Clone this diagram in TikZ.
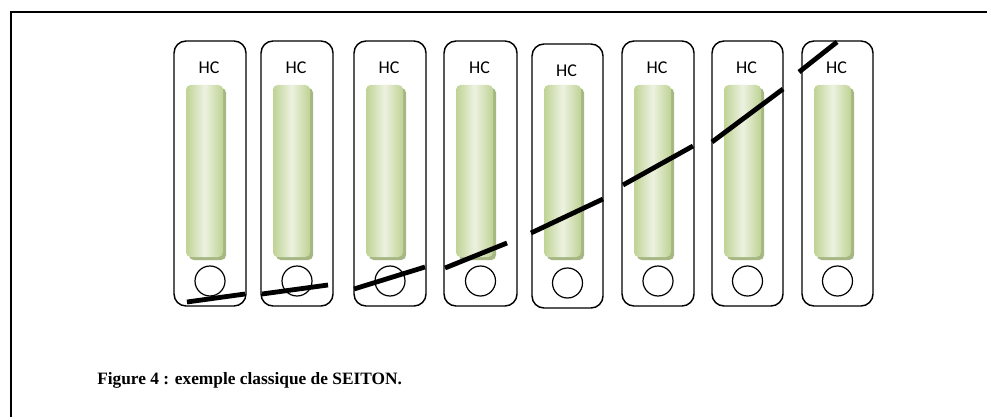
\documentclass[tikz,border=0pt]{standalone}
\usepackage{fontspec}
\setmainfont{Liberation Serif}
\newfontfamily\hcfont{Carlito}
\usetikzlibrary{calc}

\definecolor{barbord}{HTML}{BFD394}
\definecolor{barclair}{HTML}{EDF2E1}
\definecolor{barombre}{HTML}{A6B784}

\tikzset{
	binder/.style={line width=1.1pt, rounded corners=9pt, fill=white},
	bar/.style={rounded corners=3.5pt, left color=barbord, right color=barbord, middle color=barclair},
	barshadow/.style={rounded corners=3.5pt, fill=barombre},
	ring/.style={line width=0.9pt},
	seiton/.style={line width=3.6pt, color=black}
}

% one binder: (left, top)(right, bottom)
\def\classeur(#1,#2)(#3,#4){
	\draw[binder] (#1, #2) rectangle (#3, #4);
	\node[font=\hcfont\fontsize{13.5}{15}\selectfont, anchor=base] at ({(#1+#3)/2-1}, {#2+33}) {HC};
	\fill[barshadow] ({#1+15}, 88) rectangle ({#1+52}, 260);
	\shade[bar] ({#1+12}, 85) rectangle ({#1+49}, 257);
	\draw[ring] ({(#1+#3)/2}, {#4-25}) circle (15);
}

\begin{document}
\begin{tikzpicture}[x=0.75pt, y=-0.75pt]
		%%%%% START %%%%%
		
		\useasboundingbox (0, 0) rectangle (987, 417);
		
		\draw[line width=1.3pt] (11, 417) -- (11, 12) -- (987, 12);
		
		\classeur(174, 41)(246, 306)
		\classeur(261, 41)(333, 306)
		\classeur(354, 41)(426, 306)
		\classeur(444, 41)(517, 306)
		\classeur(532, 44)(603, 308)
		\classeur(622, 41)(694, 306)
		\classeur(712, 41)(783, 306)
		\classeur(802, 41)(873, 306)
		
		\draw[seiton] (187, 302) -- (245, 294);
		\draw[seiton] (262, 294) -- (328, 285);
		\draw[seiton] (354, 289) -- (425, 267);
		\draw[seiton] (445, 268) -- (507, 243);
		\draw[seiton] (531, 233) -- (603, 199);
		\draw[seiton] (623, 185) -- (693, 146);
		\draw[seiton] (712, 142) -- (783, 89);
		\draw[seiton] (799, 72) -- (837, 42);
		
		\node[anchor=base west, inner sep=0pt, font=\bfseries\fontsize{13}{15}\selectfont] (legende) at (97, 384) {Figure 4 : exemple classique de SEITON.};
		
		%%%%% END %%%%%
	\end{tikzpicture}
\end{document}
